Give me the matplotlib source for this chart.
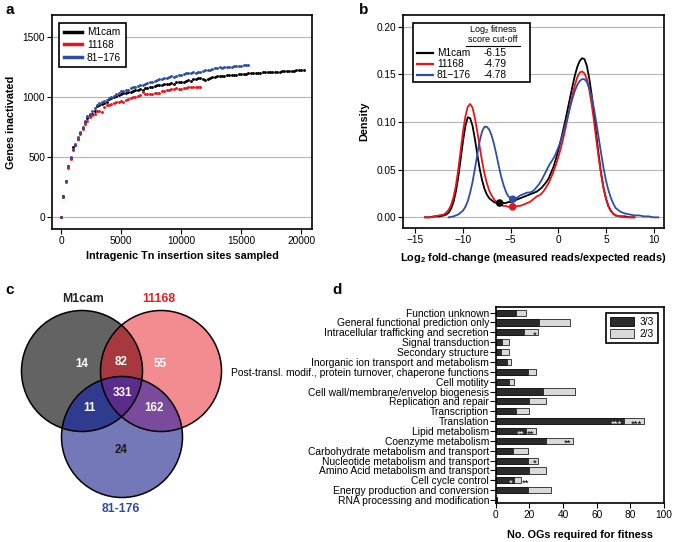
import numpy as np
import matplotlib
matplotlib.use('Agg')
import matplotlib.pyplot as plt
from matplotlib.lines import Line2D
from matplotlib.patches import Circle, Rectangle

plt.rcParams['font.family'] = ['Liberation Sans', 'DejaVu Sans']
plt.rcParams['mathtext.fontset'] = 'custom'
plt.rcParams['mathtext.rm'] = 'Liberation Sans'
plt.rcParams['mathtext.bf'] = 'Liberation Sans:bold'

# ---- panel a: saturation curves (sites sampled every 200) ----
strains = ['M1cam', '11168', '81\u2212176']
a_x_m1cam = np.arange(0, 20201, 200)
a_y_m1cam = [0, 172, 302, 422, 492, 580, 600, 650, 700, 740,
             790, 820, 845, 860, 880, 925, 935, 940, 950, 960,
             985, 990, 995, 1005, 1015, 1025, 1030, 1035, 1040, 1040,
             1050, 1055, 1060, 1065, 1060, 1075, 1070, 1085, 1080, 1090,
             1095, 1100, 1095, 1105, 1110, 1110, 1115, 1110, 1120, 1125,
             1125, 1120, 1135, 1140, 1135, 1150, 1145, 1155, 1160, 1150,
             1140, 1145, 1160, 1165, 1165, 1170, 1170, 1175, 1175, 1178,
             1180, 1182, 1185, 1185, 1188, 1190, 1192, 1193, 1195, 1195,
             1197, 1198, 1200, 1200, 1202, 1203, 1205, 1205, 1207, 1208,
             1210, 1210, 1212, 1213, 1215, 1215, 1217, 1218, 1220, 1220,
             1222, 1225]
a_x_11168 = np.arange(0, 11601, 200)
a_y_11168 = [0, 165, 295, 405, 485, 560, 600, 650, 690, 730,
             770, 800, 830, 845, 855, 885, 880, 875, 915, 930,
             935, 940, 950, 955, 960, 965, 960, 975, 985, 990,
             995, 1000, 1010, 1015, 1040, 1025, 1020, 1020, 1025, 1030,
             1035, 1035, 1045, 1050, 1055, 1060, 1065, 1065, 1070, 1065,
             1068, 1070, 1075, 1078, 1080, 1082, 1080, 1085, 1082]
a_x_81176 = np.arange(0, 15601, 200)
a_y_81176 = [0, 170, 300, 420, 500, 565, 610, 665, 710, 750,
             800, 840, 860, 880, 905, 935, 945, 955, 965, 975,
             990, 1000, 1010, 1020, 1030, 1045, 1050, 1055, 1060, 1070,
             1080, 1085, 1090, 1095, 1100, 1110, 1115, 1120, 1125, 1130,
             1140, 1145, 1150, 1155, 1160, 1165, 1170, 1168, 1175, 1180,
             1185, 1190, 1195, 1200, 1198, 1205, 1200, 1210, 1205, 1215,
             1220, 1225, 1222, 1230, 1235, 1240, 1245, 1238, 1245, 1248,
             1250, 1248, 1252, 1255, 1258, 1255, 1260, 1262, 1260]

# ---- panel b: density of log2 fold-change ----
b_x_m1cam = np.concatenate([np.arange(-14, -12, 0.5), np.arange(-12, 6, 0.25), np.arange(6, 8.01, 0.5)])
b_d_m1cam = [0.000, 0.000, 0.001, 0.001,
             0.002, 0.003, 0.005, 0.009, 0.016, 0.027, 0.042, 0.061, 0.080,
             0.096, 0.105, 0.104, 0.096, 0.082, 0.066, 0.051, 0.039,
             0.030, 0.024, 0.020, 0.018, 0.016, 0.015, 0.015, 0.015,
             0.015, 0.015, 0.016, 0.016, 0.017, 0.018, 0.019, 0.020,
             0.021, 0.022, 0.023, 0.024, 0.025, 0.026, 0.027, 0.029,
             0.031, 0.034, 0.037, 0.041, 0.047, 0.053, 0.061, 0.070,
             0.080, 0.091, 0.102, 0.114, 0.126, 0.138, 0.149, 0.158,
             0.164, 0.167, 0.166, 0.159, 0.146, 0.129, 0.108, 0.086,
             0.065, 0.046, 0.031, 0.020, 0.012, 0.007, 0.004,
             0.002, 0.001, 0.001, 0.000, 0.000]
b_x_11168 = np.concatenate([np.arange(-14, -12, 0.5), np.arange(-12, 6, 0.25), np.arange(6, 8.01, 0.5)])
b_d_11168 = [0.000, 0.000, 0.001, 0.002,
             0.003, 0.005, 0.008, 0.013, 0.021, 0.033, 0.050, 0.070, 0.090,
             0.106, 0.116, 0.119, 0.115, 0.104, 0.090, 0.074, 0.059,
             0.046, 0.036, 0.028, 0.023, 0.019, 0.016, 0.014, 0.013,
             0.012, 0.012, 0.011, 0.011, 0.011, 0.011, 0.012, 0.012,
             0.013, 0.014, 0.015, 0.016, 0.018, 0.020, 0.022, 0.023,
             0.025, 0.028, 0.032, 0.036, 0.042, 0.048, 0.055, 0.063,
             0.072, 0.082, 0.093, 0.105, 0.117, 0.129, 0.139, 0.147,
             0.152, 0.153, 0.151, 0.145, 0.134, 0.119, 0.101, 0.081,
             0.062, 0.045, 0.031, 0.020, 0.012, 0.007, 0.004,
             0.002, 0.001, 0.000, 0.000, 0.000]
b_x_81176 = np.concatenate([np.arange(-11.5, -10, 0.5), np.arange(-10, 6, 0.25), np.arange(6, 10.51, 0.5)])
b_d_81176 = [0.000, 0.001, 0.003,
             0.007, 0.011, 0.017, 0.026, 0.037, 0.051, 0.066, 0.080, 0.090,
             0.095, 0.095, 0.092, 0.086, 0.077, 0.066, 0.054, 0.043,
             0.034, 0.027, 0.022, 0.020, 0.019, 0.020, 0.021, 0.023,
             0.024, 0.025, 0.026, 0.026, 0.027, 0.029, 0.032, 0.035,
             0.039, 0.044, 0.049, 0.054, 0.058, 0.062, 0.067, 0.073,
             0.080, 0.088, 0.097, 0.106, 0.116, 0.125, 0.133, 0.139,
             0.143, 0.145, 0.145, 0.142, 0.136, 0.127, 0.114, 0.099,
             0.083, 0.067, 0.052, 0.039, 0.029, 0.021, 0.015,
             0.010, 0.006, 0.004, 0.003, 0.002, 0.002, 0.001, 0.001, 0.000, 0.000]
cutoff_x = [-6.15, -4.79, -4.78]
cutoff_y = [0.015, 0.011, 0.019]
cutoff_labels = ['-6.15', '-4.79', '-4.78']

# ---- panel c: venn counts ----
venn_only_m1cam = 14
venn_m1cam_11168 = 82
venn_only_11168 = 55
venn_all = 331
venn_m1cam_81176 = 11
venn_11168_81176 = 162
venn_only_81176 = 24

# ---- panel d: COG categories ----
cog_names = ['Function unknown', 'General functional prediction only',
             'Intracellular trafficking and secretion', 'Signal transduction',
             'Secondary structure', 'Inorganic ion transport and metabolism',
             'Post-transl. modif., protein turnover, chaperone functions',
             'Cell motility', 'Cell wall/membrane/envelop biogenesis',
             'Replication and repair', 'Transcription', 'Translation',
             'Lipid metabolism', 'Coenzyme metabolism',
             'Carbohydrate metabolism and transport',
             'Nucleotide metabolism and transport',
             'Amino Acid metabolism and transport', 'Cell cycle control',
             'Energy production and conversion',
             'RNA processing and modification']
og_3of3 = [12, 26, 17, 4, 3, 7, 19, 8, 28, 20, 12, 76, 18, 30, 10, 19, 20, 11, 19, 1]
og_2of3 = [6, 18, 8, 4, 5, 2, 5, 3, 19, 10, 8, 12, 6, 16, 9, 6, 10, 4, 14, 0]
stars_3of3 = ['', '', '', '', '', '', '', '', '', '', '', '***', '**', '', '', '', '', '*', '', '']
stars_2of3 = ['', '', '*', '', '', '', '', '', '', '', '', '***', '**', '**', '', '*', '', '**', '', '']

black = '#000000'
red = '#e8151d'
blue = '#2d4ea3'
colors = [black, red, blue]

fig = plt.figure(figsize=(6.75, 5.42), dpi=100)
W, H = 675.0, 542.0

def px_axes(l, t, r, b):
    return fig.add_axes([l / W, 1 - b / H, (r - l) / W, (b - t) / H])

def style(ax):
    for s in ax.spines.values():
        s.set_linewidth(1.2)
    ax.tick_params(labelsize=7.3, length=3.5, width=0.8, pad=1.5)

# ---------------- a ----------------
ax = px_axes(52, 15, 312, 229)
for x, y, c in zip([a_x_m1cam, a_x_11168, a_x_81176], [a_y_m1cam, a_y_11168, a_y_81176], colors):
    ax.plot(x, y, 'o', ms=2.1, color=c, mec='none', zorder=3)
ax.set_xlim(-750, 20900)
ax.set_ylim(-100, 1680)
ax.set_xticks([0, 5000, 10000, 15000, 20000])
ax.set_yticks([0, 500, 1000, 1500])
ax.yaxis.grid(True, color='#b4b4b4', lw=0.8)
ax.set_axisbelow(True)
style(ax)
ax.set_xlabel('Intragenic Tn insertion sites sampled', fontsize=7.8, fontweight='bold', labelpad=4)
ax.set_ylabel('Genes inactivated', fontsize=7.8, fontweight='bold', labelpad=5)
handles = [Line2D([], [], color=c, lw=2.5) for c in colors]
leg = ax.legend(handles, strains, loc='upper left', bbox_to_anchor=(0.027, 0.963),
                borderaxespad=0, fontsize=7.3, handlelength=1.8, handletextpad=0.5,
                labelspacing=0.25, borderpad=0.45, fancybox=False, framealpha=1)
leg.get_frame().set_edgecolor('black')
leg.get_frame().set_linewidth(1.2)

# ---------------- b ----------------
ax = px_axes(403, 15, 664, 228)
for x, d, c in zip([b_x_m1cam, b_x_11168, b_x_81176], [b_d_m1cam, b_d_11168, b_d_81176], colors):
    ax.plot(x, d, color=c, lw=1.3, zorder=3, solid_joinstyle='round')
ax.scatter(cutoff_x, cutoff_y, s=30, c=colors, zorder=4, edgecolors='none')
ax.set_xlim(-16.3, 11.1)
ax.set_ylim(-0.0112, 0.2123)
ax.set_xticks([-15, -10, -5, 0, 5, 10])
ax.set_yticks([0, 0.05, 0.10, 0.15, 0.20])
ax.set_yticklabels(['0.00', '0.05', '0.10', '0.15', '0.20'])
ax.yaxis.grid(True, color='#b4b4b4', lw=0.8)
ax.set_axisbelow(True)
style(ax)
ax.set_xlabel(r'Log$_\mathbf{2}$ fold-change (measured reads/expected reads)', fontsize=7.8,
              fontweight='bold', labelpad=4)
ax.set_ylabel('Density', fontsize=7.8, fontweight='bold', labelpad=5)
# legend drawn by hand (two columns with header)
ax.add_patch(Rectangle((0.038, 0.685), 0.449, 0.277, transform=ax.transAxes,
                       fc='white', ec='black', lw=1.2, zorder=5))
ax.text(0.345, 0.930, r'Log$_2$ fitness', transform=ax.transAxes, fontsize=6.5,
        ha='center', va='center', zorder=6)
ax.text(0.345, 0.883, 'score cut-off', transform=ax.transAxes, fontsize=6.5,
        ha='center', va='center', zorder=6)
ax.plot([0.240, 0.450], [0.855, 0.855], transform=ax.transAxes, color='black', lw=0.8, zorder=6)
for i, (name, val, c) in enumerate(zip(strains, cutoff_labels, colors)):
    yy = 0.822 - i * 0.052
    ax.plot([0.054, 0.115], [yy, yy], transform=ax.transAxes, color=c, lw=1.6, zorder=6)
    ax.text(0.13, yy, name, transform=ax.transAxes, fontsize=7.3, va='center', zorder=6)
    ax.text(0.31, yy, val, transform=ax.transAxes, fontsize=7.3, va='center', zorder=6)

# ---------------- c ----------------
ax = fig.add_axes([0, 0, 330 / W, 272 / H])
ax.axis('off')
r = 60.5
cA, cB, cC = (82, 371), (161, 371), (122, 437)
gx, gy = np.meshgrid(np.arange(10, 240, 0.25), np.arange(300, 510, 0.25))
inA = (gx - cA[0]) ** 2 + (gy - cA[1]) ** 2 <= r ** 2
inB = (gx - cB[0]) ** 2 + (gy - cB[1]) ** 2 <= r ** 2
inC = (gx - cC[0]) ** 2 + (gy - cC[1]) ** 2 <= r ** 2
img = np.zeros(gx.shape + (4,))
region_cols = [
    (inA & ~inB & ~inC, '#636363'),
    (~inA & inB & ~inC, '#f38c91'),
    (~inA & ~inB & inC, '#7478b8'),
    (inA & inB & ~inC, '#a7383d'),
    (inA & ~inB & inC, '#2f3b8f'),
    (~inA & inB & inC, '#7a4b9c'),
    (inA & inB & inC, '#5b2c8c'),
]
for mask, col in region_cols:
    img[mask] = matplotlib.colors.to_rgba(col)
ax.imshow(img, extent=(10, 240, 510, 300), origin='upper', aspect='auto',
          interpolation='nearest', zorder=1)
for cen in (cA, cB, cC):
    ax.add_patch(Circle(cen, r, fill=False, ec='black', lw=1.1, zorder=2))
ax.set_xlim(0, 330)
ax.set_ylim(542, 270)
venn_vals = [venn_only_m1cam, venn_m1cam_11168, venn_only_11168, venn_all,
             venn_m1cam_81176, venn_11168_81176, venn_only_81176]
venn_pos = [(82, 364), (121, 362), (160, 364), (122, 393), (89, 408), (154, 408), (121, 450)]
for v, (vx, vy) in zip(venn_vals, venn_pos):
    ax.text(vx, vy, str(v), fontsize=8.4, fontweight='bold', ha='center', va='center',
            color='#1a1a1a' if v == venn_only_81176 else 'white', zorder=3)
ax.text(83, 299, 'M1cam', fontsize=8.8, fontweight='bold', ha='center', va='center', color='#222222')
ax.text(159, 299, '11168', fontsize=8.8, fontweight='bold', ha='center', va='center', color='#ec1c24')
ax.text(121, 509, '81-176', fontsize=8.8, fontweight='bold', ha='center', va='center', color='#2e4aa0')

# ---------------- d ----------------
ax = px_axes(495.7, 306.7, 664, 503)
ypos = np.arange(len(cog_names))
total = np.array(og_3of3) + np.array(og_2of3)
ax.barh(ypos, og_3of3, height=0.62, color='#2b2b2b', ec='black', lw=0.6, label='3/3', zorder=2)
ax.barh(ypos, og_2of3, left=og_3of3, height=0.62, color='#d9d9d9', ec='#222222', lw=0.6,
        label='2/3', zorder=2)
for i in range(len(cog_names)):
    if stars_3of3[i]:
        ax.text(og_3of3[i] - 0.8, ypos[i] + 0.28, stars_3of3[i], fontsize=6.8, color='white',
                ha='right', va='center', zorder=3)
    if stars_2of3[i]:
        if og_2of3[i] < 6:
            ax.text(total[i] + 0.5, ypos[i] + 0.28, stars_2of3[i], fontsize=6.8, color='black',
                    ha='left', va='center', zorder=3)
        else:
            ax.text(total[i] - 0.8, ypos[i] + 0.28, stars_2of3[i], fontsize=6.8, color='black',
                    ha='right', va='center', zorder=3)
ax.set_yticks(ypos)
ax.set_yticklabels(cog_names)
ax.set_ylim(len(cog_names) - 1 + 0.3, -0.6)
ax.set_xlim(0, 100)
ax.set_xticks([0, 20, 40, 60, 80, 100])
for s in ax.spines.values():
    s.set_linewidth(1.2)
ax.tick_params(axis='y', labelsize=7.4, length=4, width=0.8, pad=0.8)
ax.tick_params(axis='x', labelsize=7.3, length=3.5, width=0.8, pad=1.5)
ax.set_xlabel('No. OGs required for fitness', fontsize=7.8, fontweight='bold', labelpad=7)
leg = ax.legend(loc='upper right', fontsize=7.3, fancybox=False, framealpha=1,
                handlelength=2.4, handleheight=0.9, handletextpad=0.5, labelspacing=0.2,
                borderpad=0.4, borderaxespad=0.6)
leg.get_frame().set_edgecolor('black')
leg.get_frame().set_linewidth(1.2)

# panel letters
for letter, (lx, ly) in zip('abcd', [(5, 10), (359, 10), (5, 290), (332, 290)]):
    fig.text(lx / W, 1 - ly / H, letter, fontsize=11, fontweight='bold', ha='left', va='center')

fig.savefig('out.png', dpi=100)
